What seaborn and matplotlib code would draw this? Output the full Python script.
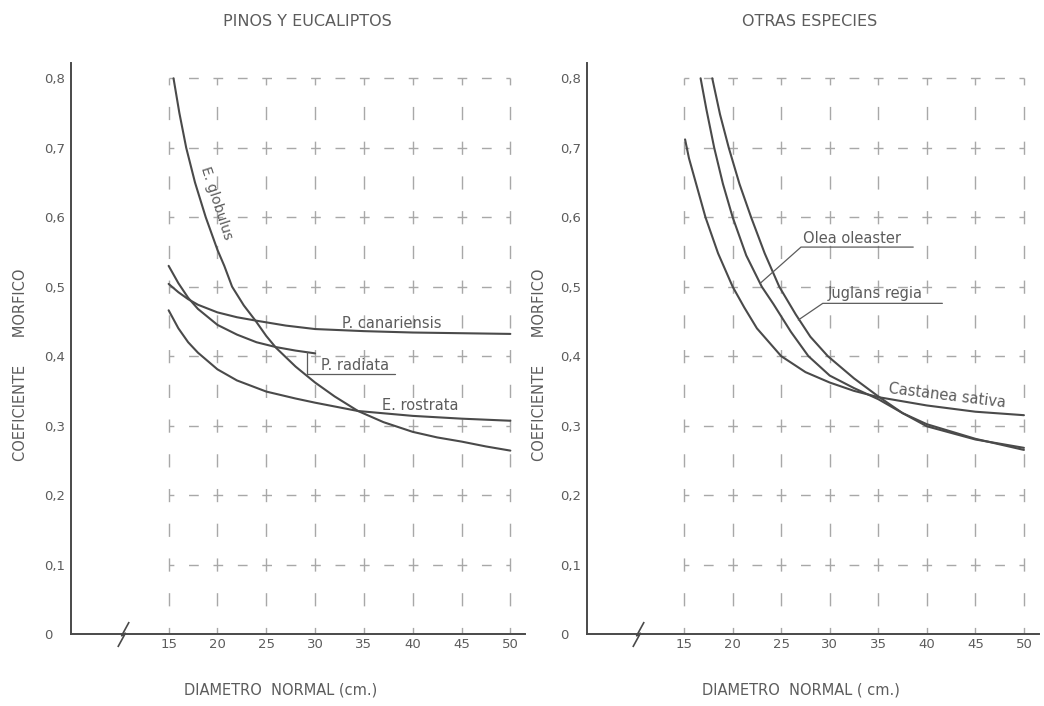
import matplotlib
matplotlib.use("Agg")
import pandas as pd
import matplotlib.pyplot as plt
from matplotlib.path import Path
import seaborn as sns

sns.set_style("white")
plt.rcParams["font.family"] = ["DejaVu Sans"]
plt.rcParams["lines.scale_dashes"] = False

# ---- values -------------------------------------------------------------
diam_ticks = [15, 20, 25, 30, 35, 40, 45, 50]
coef_ticks = [0.0, 0.1, 0.2, 0.3, 0.4, 0.5, 0.6, 0.7, 0.8]
coef_labels = ["0", "0,1", "0,2", "0,3", "0,4", "0,5", "0,6", "0,7", "0,8"]

panel_titles = ["PINOS Y EUCALIPTOS", "OTRAS ESPECIES"]
x_titles = ["DIAMETRO  NORMAL (cm.)", "DIAMETRO  NORMAL ( cm.)"]
y_title = "COEFICIENTE      MORFICO"

# pinos y eucaliptos
globulus_x = [15.5, 16.1, 16.8, 17.7, 18.8, 20.0, 20.7, 21.5, 22.7, 23.9, 25.0, 26.0,
              28.0, 30.0, 32.0, 34.4, 37.0, 40.0, 42.5, 45.0, 47.5, 50.0]
globulus_y = [0.800, 0.750, 0.700, 0.650, 0.600, 0.553, 0.530, 0.500, 0.473, 0.451, 0.429,
              0.412, 0.385, 0.362, 0.342, 0.321, 0.305, 0.291, 0.283, 0.277, 0.270, 0.264]

canariensis_x = [15, 16, 17, 18, 20, 22, 24, 27, 30, 35, 40, 45, 50]
canariensis_y = [0.504, 0.492, 0.482, 0.474, 0.463, 0.456, 0.451, 0.444, 0.439,
                 0.436, 0.434, 0.433, 0.432]

radiata_x = [15, 16, 17, 18, 20, 22, 24, 26, 28, 30]
radiata_y = [0.530, 0.505, 0.484, 0.468, 0.445, 0.431, 0.420, 0.413, 0.408, 0.404]

rostrata_x = [15, 16, 17, 18, 20, 22, 25, 28, 30, 34.4, 40, 45, 50]
rostrata_y = [0.466, 0.440, 0.420, 0.405, 0.381, 0.365, 0.349, 0.339, 0.333,
              0.321, 0.314, 0.310, 0.307]

# otras especies
castanea_x = [15.1, 15.5, 16.3, 17.2, 18.5, 20.0, 21.2, 22.5, 25.0, 27.5, 30.0,
              32.5, 35.0, 40.0, 45.0, 50.0]
castanea_y = [0.712, 0.685, 0.645, 0.600, 0.548, 0.500, 0.470, 0.440, 0.400, 0.377,
              0.362, 0.350, 0.341, 0.329, 0.320, 0.315]

olea_x = [16.7, 17.3, 18.1, 19.0, 20.0, 21.4, 23.0, 24.2, 26.0, 27.8, 30.0, 32.5,
          35.0, 37.5, 40.0, 45.0, 50.0]
olea_y = [0.800, 0.755, 0.700, 0.648, 0.600, 0.545, 0.500, 0.475, 0.435, 0.400, 0.372,
          0.354, 0.338, 0.318, 0.302, 0.281, 0.265]

juglans_x = [17.9, 18.7, 19.6, 20.7, 21.9, 23.3, 24.8, 26.5, 28.0, 29.8, 32.5, 35.0,
             37.5, 40.0, 45.0, 50.0]
juglans_y = [0.800, 0.748, 0.700, 0.648, 0.600, 0.548, 0.500, 0.460, 0.428, 0.400,
             0.368, 0.342, 0.318, 0.299, 0.280, 0.268]


def long_frame(series):
    rows = []
    for name, xs, ys in series:
        for x, y in zip(xs, ys):
            rows.append({"especie": name, "diametro": x, "coef": y})
    return pd.DataFrame(rows)


pinos = long_frame([
    ("E. globulus", globulus_x, globulus_y),
    ("P. canariensis", canariensis_x, canariensis_y),
    ("P. radiata", radiata_x, radiata_y),
    ("E. rostrata", rostrata_x, rostrata_y),
])
otras = long_frame([
    ("Castanea sativa", castanea_x, castanea_y),
    ("Olea oleaster", olea_x, olea_y),
    ("Juglans regia", juglans_x, juglans_y),
])

# ---- styling / layout ----------------------------------------------------
INK = "#4a4a4a"
TXT = "#5c5c5c"
GRID = "#a8a8a8"
W, H = 1044, 706
XLIM = (5, 51.5)
YLIM = (0, 0.822)
BREAK_AT = 10.3

# text annotations: (label, x, y, rotation, ha, va, size)
labels_left = [
    ("E. globulus", 19.85, 0.62, -72, "center", "center", 10),
    ("P. canariensis", 32.8, 0.441, 0, "left", "baseline", 10.5),
    ("P. radiata", 30.6, 0.380, 0, "left", "baseline", 10.5),
    ("E. rostrata", 36.9, 0.322, 0, "left", "baseline", 10.5),
]
leaders_left = [
    [(29.2, 0.406), (29.2, 0.375), (38.2, 0.375)],
]
labels_right = [
    ("Olea oleaster", 27.2, 0.563, 0, "left", "baseline", 10.5),
    ("Juglans regia", 29.8, 0.483, 0, "left", "baseline", 10.5),
    ("Castanea sativa", 42.1, 0.343, -7, "center", "center", 10.5),
]
leaders_right = [
    [(22.85, 0.505), (27.04, 0.557), (38.6, 0.557)],
    [(26.76, 0.452), (29.28, 0.476), (41.6, 0.476)],
]

fig = plt.figure(figsize=(W / 100, H / 100), dpi=100)
ax_l = fig.add_axes([71 / W, 72 / H, 454 / W, 571 / H])
ax_r = fig.add_axes([587 / W, 72 / H, 451.5 / W, 571 / H])

break_mark = Path([(-0.45, -1.0), (0.15, 0.1), (-0.15, -0.1), (0.45, 1.0)],
                  [Path.MOVETO, Path.LINETO, Path.LINETO, Path.LINETO])


def dressed_grid(ax):
    # dashed grid with a short cross at every intersection
    to_pt = 72 / fig.dpi
    p0 = ax.transData.transform((diam_ticks[0], coef_ticks[0]))
    p1 = ax.transData.transform((diam_ticks[1], coef_ticks[1]))
    hper = (p1[0] - p0[0]) / 2 * to_pt
    vper = (p1[1] - p0[1]) / 2 * to_pt
    hdash, vdash = 7.0, 9.5
    ax.hlines(coef_ticks[1:], diam_ticks[0], diam_ticks[-1], colors=GRID, lw=1.0,
              linestyles=[(hdash / 2, (hdash, hper - hdash))], zorder=1)
    ax.vlines(diam_ticks, coef_ticks[0], coef_ticks[-1], colors=GRID, lw=1.0,
              linestyles=[(vdash / 2, (vdash, vper - vdash))], zorder=1)


def setup(ax, data, labels, leaders, title, xtitle, title_x, xtitle_x, ytitle_x):
    ax.set_xlim(*XLIM)
    ax.set_ylim(*YLIM)
    dressed_grid(ax)
    sns.lineplot(data=data, x="diametro", y="coef", units="especie", estimator=None,
                 sort=False, color=INK, lw=1.5, legend=False, ax=ax, zorder=3)
    for txt, x, y, rot, ha, va, size in labels:
        ax.text(x, y, txt, rotation=rot, ha=ha, va=va, rotation_mode="anchor",
                fontsize=size, color=TXT, zorder=4)
    for pts in leaders:
        ax.plot([p[0] for p in pts], [p[1] for p in pts], color=TXT, lw=0.9, zorder=4)

    sns.despine(ax=ax)
    for side in ("left", "bottom"):
        ax.spines[side].set_color(INK)
        ax.spines[side].set_linewidth(1.4)
    ax.set_xticks(diam_ticks)
    ax.set_xticklabels([str(t) for t in diam_ticks])
    ax.set_yticks(coef_ticks)
    ax.set_yticklabels(coef_labels)
    ax.tick_params(axis="x", length=0, pad=3, labelsize=9.5, labelcolor=TXT)
    ax.tick_params(axis="y", direction="in", length=7, width=1, color=INK, pad=19.5,
                   labelsize=9.5, labelcolor=TXT)
    for lab in ax.get_yticklabels():
        lab.set_horizontalalignment("left")
    ax.set_xlabel("")
    ax.set_ylabel("")
    ax.plot([BREAK_AT], [0], marker=break_mark, markersize=18, color=INK, mew=1.2,
            fillstyle="none", clip_on=False, zorder=5)

    fig.text(title_x / W, 1 - 22 / H, title, ha="center", va="center",
             fontsize=11.5, color=TXT)
    fig.text(xtitle_x / W, 1 - 690 / H, xtitle, ha="center", va="center",
             fontsize=10.5, color=TXT)
    fig.text(ytitle_x / W, 1 - 365 / H, y_title, ha="center", va="center",
             rotation=90, fontsize=10.5, color=TXT)


setup(ax_l, pinos, labels_left, leaders_left, panel_titles[0], x_titles[0], 307, 281, 21)
setup(ax_r, otras, labels_right, leaders_right, panel_titles[1], x_titles[1], 810, 801, 540)

fig.savefig("out.png", dpi=100, facecolor="white")
